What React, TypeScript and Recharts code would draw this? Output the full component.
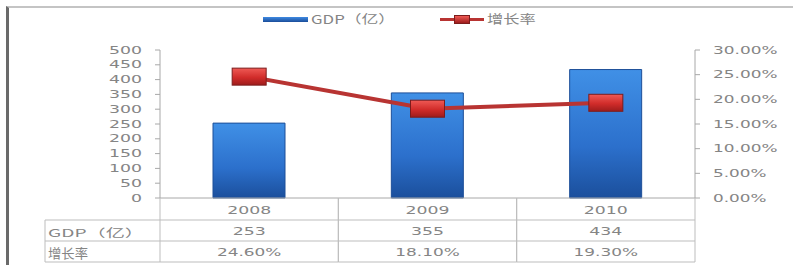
import React from 'react';
import { ComposedChart, Bar, Line, XAxis, YAxis } from 'recharts';

// ---- data ----
const years = ['2008', '2009', '2010'];
const gdpValues = [253, 355, 434];
const growthValues = [24.6, 18.1, 19.3];
const growthLabels = ['24.60%', '18.10%', '19.30%'];
const gdpTicks = [0, 50, 100, 150, 200, 250, 300, 350, 400, 450, 500];
const rateTicks = [0, 5, 10, 15, 20, 25, 30];
const seriesNames = ['GDP（亿）', '增长率'];

const data = years.map((y, i) => ({
  year: y,
  gdp: gdpValues[i],
  growth: growthValues[i],
  growthLabel: growthLabels[i],
}));

// ---- layout ----
const W = 793;
const H = 265;
const PLOT_LEFT = 160;
const PLOT_RIGHT = 695;
const PLOT_TOP = 50;
const PLOT_BOTTOM = 198;
const HALF_BAND = (PLOT_RIGHT - PLOT_LEFT) / years.length / 2;
const TABLE_LEFT = 45;
const ROW_H = [22, 21, 21];
const TEXT = '#858585';
const GRID = '#bdbdbd';
const NUM_FONT = '"DejaVu Sans", Verdana, sans-serif';
const CJK_FONT = '"Noto Sans CJK SC", sans-serif';

const numWidth = (s: string) => {
  let w = 0;
  for (const c of s) {
    if (c === '.') w += 5.5;
    else if (c === '%') w += 15;
    else w += 11;
  }
  return w;
};

const NumText = ({ x, y, value, anchor }: any) => (
  <text
    x={x}
    y={y}
    textAnchor={anchor}
    dominantBaseline="central"
    fontSize={11}
    fontFamily={NUM_FONT}
    fill={TEXT}
    textLength={numWidth(value)}
    lengthAdjust="spacingAndGlyphs"
  >
    {value}
  </text>
);

const LeftTick = (props: any) => {
  const { x, y, payload } = props;
  return <NumText x={x} y={y} value={String(payload.value)} anchor="end" />;
};

const RightTick = (props: any) => {
  const { x, y, payload } = props;
  return <NumText x={x} y={y} value={`${Number(payload.value).toFixed(2)}%`} anchor="start" />;
};

const TableTick = (props: any) => {
  const { x, y, index } = props;
  const d = data[index];
  if (!d) return null;
  const r1 = y + ROW_H[0];
  const r2 = r1 + ROW_H[1];
  const r3 = r2 + ROW_H[2];
  const left = x - HALF_BAND;
  const right = x + HALF_BAND;
  return (
    <g>
      <line x1={left} x2={left} y1={y} y2={r3} stroke={GRID} strokeWidth={1} />
      <line x1={right} x2={right} y1={y} y2={r3} stroke={GRID} strokeWidth={1} />
      <line x1={left} x2={right} y1={r1} y2={r1} stroke={GRID} strokeWidth={1} />
      <line x1={left} x2={right} y1={r2} y2={r2} stroke={GRID} strokeWidth={1} />
      <line x1={left} x2={right} y1={r3} y2={r3} stroke={GRID} strokeWidth={1} />
      <NumText x={x} y={y + ROW_H[0] / 2 + 1} value={d.year} anchor="middle" />
      <NumText x={x} y={r1 + ROW_H[1] / 2 + 1} value={String(d.gdp)} anchor="middle" />
      <NumText x={x} y={r2 + ROW_H[2] / 2 + 1} value={d.growthLabel} anchor="middle" />
      {index === 0 && (
        <g>
          <line x1={TABLE_LEFT} x2={left} y1={r1} y2={r1} stroke={GRID} strokeWidth={1} />
          <line x1={TABLE_LEFT} x2={left} y1={r2} y2={r2} stroke={GRID} strokeWidth={1} />
          <line x1={TABLE_LEFT} x2={left} y1={r3} y2={r3} stroke={GRID} strokeWidth={1} />
          <line x1={TABLE_LEFT} x2={TABLE_LEFT} y1={r1} y2={r3} stroke={GRID} strokeWidth={1} />
          <text
            x={TABLE_LEFT + 3}
            y={r1 + ROW_H[1] / 2 + 1}
            dominantBaseline="central"
            fontSize={11}
            fontFamily={CJK_FONT}
            fill={TEXT}
            textLength={96}
            lengthAdjust="spacingAndGlyphs"
          >
            {seriesNames[0]}
          </text>
          <text
            x={TABLE_LEFT + 3}
            y={r2 + ROW_H[2] / 2 + 1}
            dominantBaseline="central"
            fontSize={13}
            fontFamily={CJK_FONT}
            fill={TEXT}
            textLength={40}
            lengthAdjust="spacingAndGlyphs"
          >
            {seriesNames[1]}
          </text>
        </g>
      )}
    </g>
  );
};

const RectDot = (props: any) => {
  const { cx, cy, index } = props;
  if (cx == null || cy == null) return null;
  return (
    <rect
      key={`dot-${index}`}
      x={cx - 17}
      y={cy - 8.5}
      width={34}
      height={17}
      fill="url(#redGrad)"
      stroke="#7c1c1c"
      strokeWidth={1}
    />
  );
};

export default function App() {
  return (
    <div style={{ position: 'absolute', left: 0, top: 0, width: W, height: H, background: '#fff', overflow: 'hidden' }}>
      {/* frame */}
      <div
        style={{
          position: 'absolute',
          left: 6,
          top: 6,
          width: W,
          height: H,
          borderLeft: '3px solid #6a6a6a',
          borderTop: '2px solid #c4c4c4',
        }}
      />
      <div style={{ position: 'absolute', left: 0, top: 0 }}>
        <ComposedChart
          width={W}
          height={H}
          data={data}
          margin={{ top: PLOT_TOP, right: 0, bottom: 0, left: 0 }}
        >
          <defs>
            <linearGradient id="blueGrad" x1="0" y1="0" x2="0" y2="1">
              <stop offset="0%" stopColor="#4090e6" />
              <stop offset="60%" stopColor="#2c70cc" />
              <stop offset="100%" stopColor="#1b4f9c" />
            </linearGradient>
            <linearGradient id="redGrad" x1="0" y1="0" x2="0" y2="1">
              <stop offset="0%" stopColor="#ef5a55" />
              <stop offset="55%" stopColor="#d12c2a" />
              <stop offset="100%" stopColor="#9e1c1c" />
            </linearGradient>
          </defs>
          <XAxis
            dataKey="year"
            xAxisId="x"
            height={H - PLOT_BOTTOM}
            axisLine={{ stroke: '#a8a8a8' }}
            tickLine={false}
            tickSize={0}
            tickMargin={0}
            interval={0}
            tick={<TableTick />}
          />
          <YAxis
            yAxisId="left"
            width={PLOT_LEFT}
            domain={[0, 500]}
            ticks={gdpTicks}
            interval={0}
            axisLine={{ stroke: '#a8a8a8' }}
            tickLine={{ stroke: '#a8a8a8' }}
            tickSize={5}
            tickMargin={13}
            tick={<LeftTick />}
          />
          <YAxis
            yAxisId="right"
            orientation="right"
            width={W - PLOT_RIGHT}
            domain={[0, 30]}
            ticks={rateTicks}
            interval={0}
            axisLine={{ stroke: '#a8a8a8' }}
            tickLine={{ stroke: '#a8a8a8' }}
            tickSize={5}
            tickMargin={13}
            tick={<RightTick />}
          />
          <Bar
            xAxisId="x"
            yAxisId="left"
            dataKey="gdp"
            name={seriesNames[0]}
            barSize={72}
            fill="url(#blueGrad)"
            stroke="#1d4f98"
            strokeWidth={1}
            isAnimationActive={false}
          />
          <Line
            xAxisId="x"
            yAxisId="right"
            dataKey="growth"
            name={seriesNames[1]}
            stroke="#b83432"
            strokeWidth={4}
            dot={<RectDot />}
            activeDot={false}
            isAnimationActive={false}
          />
        </ComposedChart>
      </div>
      {/* legend */}
      <div style={{ position: 'absolute', left: 263, top: 17, width: 45, height: 5, background: 'linear-gradient(#3f8ae2, #1a4d9a)' }} />
      <div
        style={{
          position: 'absolute',
          left: 311,
          top: 11,
          fontFamily: CJK_FONT,
          fontSize: 12,
          lineHeight: '16px',
          color: TEXT,
          whiteSpace: 'nowrap',
          transform: 'scaleX(1.4)',
          transformOrigin: 'left center',
        }}
      >
        {seriesNames[0]}
      </div>
      <div style={{ position: 'absolute', left: 440, top: 18, width: 44, height: 3, background: '#b83432' }} />
      <div
        style={{
          position: 'absolute',
          left: 454,
          top: 15,
          width: 16,
          height: 9,
          background: 'linear-gradient(#ef5a55, #9e1c1c)',
          boxSizing: 'border-box',
          border: '1px solid #7c1c1c',
        }}
      />
      <div
        style={{
          position: 'absolute',
          left: 487,
          top: 11,
          fontFamily: CJK_FONT,
          fontSize: 12,
          lineHeight: '16px',
          color: TEXT,
          whiteSpace: 'nowrap',
          transform: 'scaleX(1.35)',
          transformOrigin: 'left center',
        }}
      >
        {seriesNames[1]}
      </div>
    </div>
  );
}
